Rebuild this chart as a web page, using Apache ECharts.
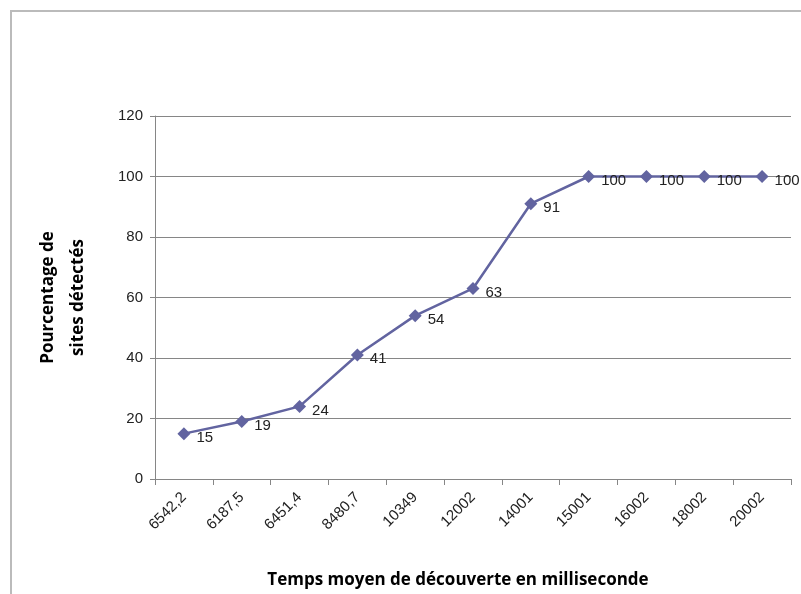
<!DOCTYPE html>
<html>
<head>
<meta charset="utf-8">
<script src="https://cdn.jsdelivr.net/npm/echarts@6/dist/echarts.min.js"></script>
<style>html,body{margin:0;padding:0;background:#fff;}#c{width:801px;height:594px;}</style>
</head>
<body>
<div id="c"></div>
<script>
const categories = ['6542,2','6187,5','6451,4','8480,7','10349','12002','14001','15001','16002','18002','20002'];
const values = [15, 19, 24, 41, 54, 63, 91, 100, 100, 100, 100];
const yTicks = [0, 20, 40, 60, 80, 100, 120];

const chart = echarts.init(document.getElementById('c'), null, {renderer: 'canvas'});
const font = 'Liberation Sans, Arial, sans-serif';
chart.setOption({
  animation: false,
  backgroundColor: '#fff',
  graphic: [{
    type: 'polyline',
    shape: {points: [[11, 594], [11, 11], [801, 11]]},
    style: {stroke: '#bbbbbb', lineWidth: 2, fill: null},
    silent: true
  }],
  grid: {left: 155, right: 10, top: 116, bottom: 111, containLabel: false},
  xAxis: {
    type: 'category',
    data: categories,
    boundaryGap: true,
    name: 'Temps moyen de découverte en milliseconde',
    nameLocation: 'middle',
    nameGap: 93,
    nameTextStyle: {fontFamily: 'Open Sans, sans-serif', fontWeight: 'bold', fontSize: 17, color: '#000', padding: [0, 30, 0, 0]},
    axisLine: {show: true, lineStyle: {color: '#868686', width: 1}},
    axisTick: {show: true, alignWithLabel: false, length: 6, lineStyle: {color: '#868686'}},
    axisLabel: {rotate: 45, fontFamily: font, fontSize: 15, color: '#222', margin: 16, interval: 0},
    splitLine: {show: false}
  },
  yAxis: {
    type: 'value',
    min: 0, max: 120, interval: 20,
    name: 'Pourcentage de\nsites détectés',
    nameLocation: 'middle',
    nameGap: 62,
    nameRotate: 90,
    nameTextStyle: {fontFamily: 'Open Sans, sans-serif', fontWeight: 'bold', fontSize: 17, color: '#000', lineHeight: 30},
    axisLine: {show: true, lineStyle: {color: '#868686', width: 1}},
    axisTick: {show: true, length: 5, lineStyle: {color: '#868686'}},
    axisLabel: {fontFamily: font, fontSize: 15, color: '#222', margin: 12,
      formatter: function (v) { return yTicks.indexOf(v) >= 0 ? String(v) : ''; }},
    splitLine: {show: true, lineStyle: {color: '#868686', width: 1}}
  },
  series: [{
    type: 'line',
    data: values,
    symbol: 'diamond',
    symbolSize: 13,
    lineStyle: {color: '#6264a0', width: 2.5},
    itemStyle: {color: '#6264a0'},
    label: {show: true, position: 'right', offset: [1, 4], fontFamily: font, fontSize: 15, color: '#222'}
  }]
});
</script>
</body>
</html>
